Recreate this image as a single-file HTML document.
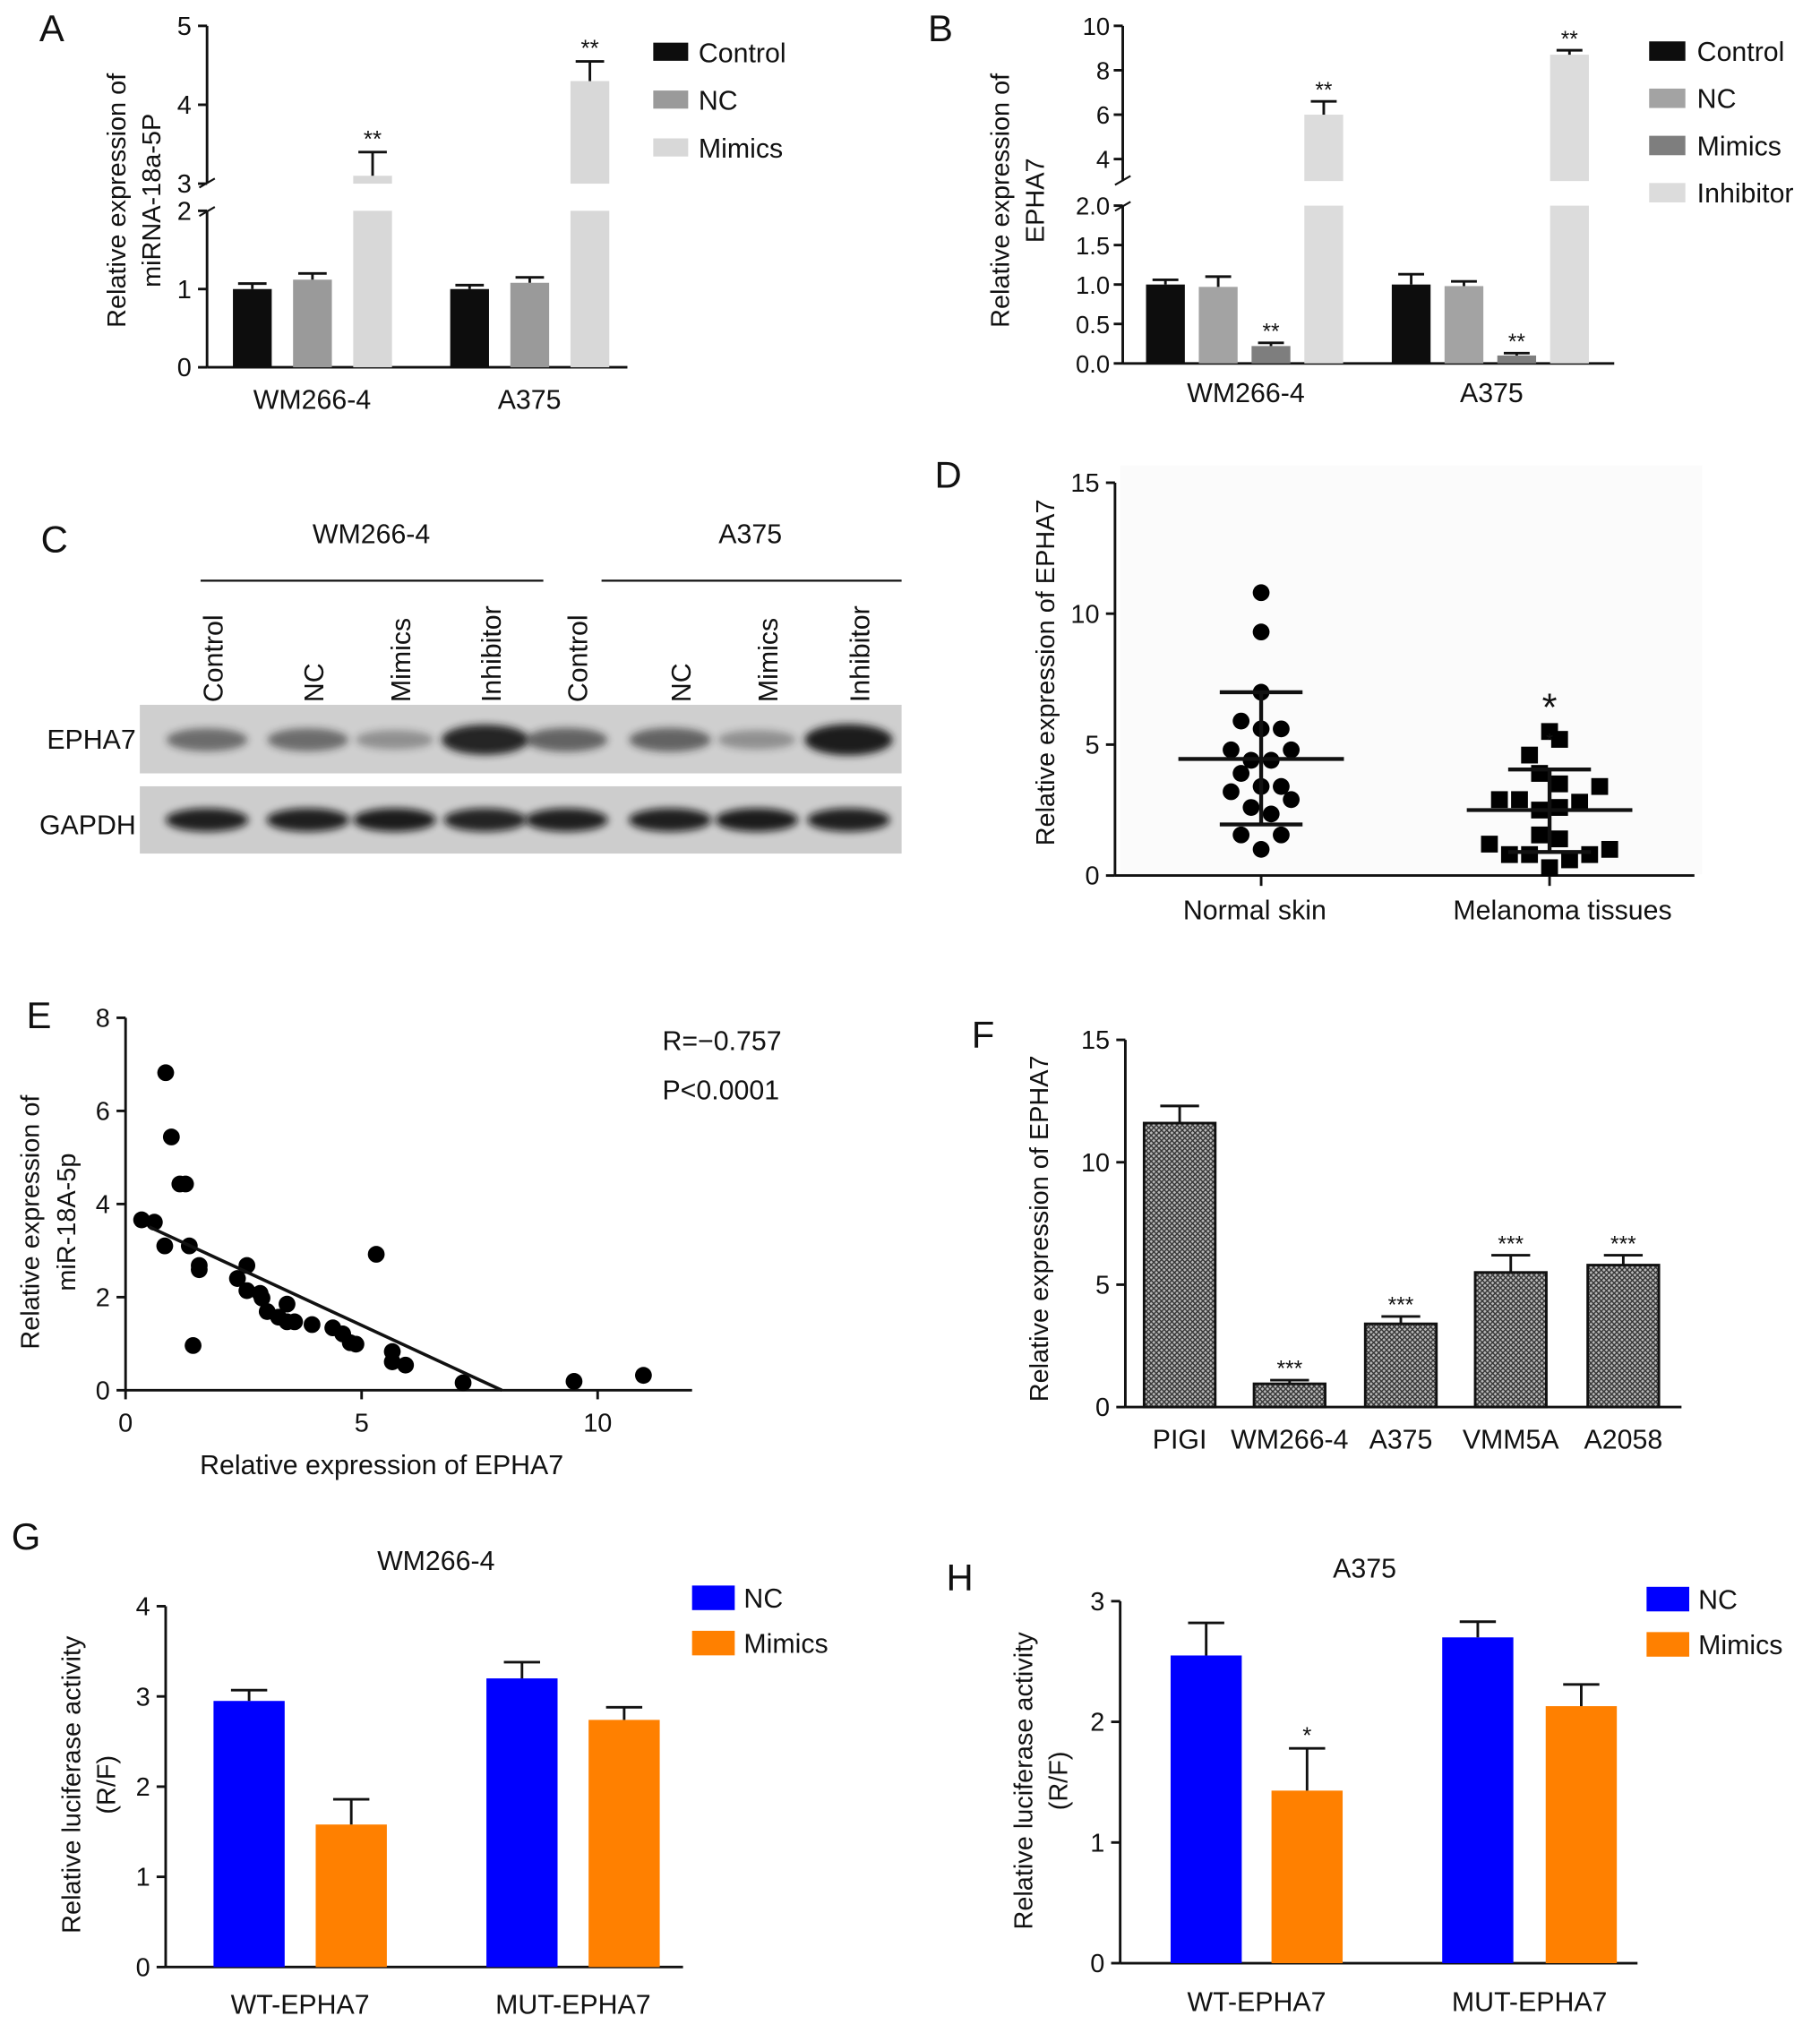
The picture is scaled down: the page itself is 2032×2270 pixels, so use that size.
<!DOCTYPE html>
<html><head><meta charset="utf-8"><style>
html,body{margin:0;padding:0;background:#fff}
svg{display:block;font-family:"Liberation Sans",sans-serif}
</style></head><body>
<svg id="fig" width="2032" height="2270" viewBox="0 0 1407 1572" xmlns="http://www.w3.org/2000/svg">
<defs>
<filter id="blur" x="-30%" y="-80%" width="160%" height="260%"><feGaussianBlur stdDeviation="3"/></filter>
<pattern id="hatch" width="4" height="4" patternUnits="userSpaceOnUse">
<rect width="4" height="4" fill="#bbb"/><path d="M0 0L4 4M4 0L0 4" stroke="#333" stroke-width="1"/></pattern>
</defs>
<g id="root"></g>
</svg>
<script>
// ---------- DATA ----------
const aGroups=["WM266-4","A375"];
const aSeries=["Control","NC","Mimics"];
const aValues=[[1.0,1.12,3.1],[1.0,1.08,4.3]];
const aErrors=[[0.07,0.08,0.3],[0.05,0.07,0.25]];
const aSig=[["","","**"],["","","**"]];
const aTicks=[0,1,2,3,4,5];

const bGroups=["WM266-4","A375"];
const bSeries=["Control","NC","Mimics","Inhibitor"];
const bValues=[[1.0,0.97,0.22,6.0],[1.0,0.98,0.1,8.7]];
const bErrors=[[0.06,0.13,0.04,0.6],[0.13,0.06,0.03,0.2]];
const bSig=[["","","**","**"],["","","**","**"]];
const bTicksLow=[0,0.5,1.0,1.5,2.0];
const bTicksHigh=[4,6,8,10];

const cLanes=["Control","NC","Mimics","Inhibitor","Control","NC","Mimics","Inhibitor"];
const cEpha7=[0.55,0.55,0.35,0.95,0.6,0.6,0.35,1.0];
const cGapdh=[0.9,0.9,0.92,0.88,0.9,0.9,0.92,0.9];

const dGroups=["Normal skin","Melanoma tissues"];
const dNormal=[10.8,9.3,7.0,5.9,5.6,5.6,4.8,4.8,4.4,4.4,3.9,3.4,3.4,3.2,2.9,2.6,2.35,1.55,1.55,1.0];
const dNormalJit=[0,0,0,-1,0,1,-1.5,1.5,-0.5,0.5,-1,0,1,-1.5,1.5,-0.5,0.5,-1,1,0];
const dMel=[5.5,5.2,4.6,3.9,3.5,3.4,2.9,2.9,2.5,2.6,2.8,1.55,1.4,1.2,1.0,0.8,0.8,0.6,0.8,0.3];
const dMelJit=[0,0.5,-1,-0.5,0.5,2.5,-2.5,-1.5,-0.5,0.5,1.5,-0.5,0.5,-3,3,-2,-1,1,2,0];
const dMean=[4.45,2.5];
const dSdHi=[7.0,4.05];
const dSdLo=[1.95,0.9];
const dTicks=[0,5,10,15];

const eX=[0.85,0.97,1.15,1.27,0.34,0.61,0.83,1.35,1.56,1.56,2.57,2.37,2.57,2.85,2.89,3.42,3.0,3.24,3.42,3.58,3.95,4.39,4.6,4.76,4.88,5.31,5.65,5.65,5.93,7.15,9.5,10.97,1.43];
const eY=[6.82,5.44,4.43,4.43,3.66,3.61,3.1,3.1,2.68,2.59,2.68,2.4,2.14,2.08,1.98,1.85,1.69,1.57,1.47,1.47,1.41,1.34,1.21,1.02,0.99,2.92,0.83,0.61,0.54,0.16,0.19,0.32,0.96];
const eFitX=[0.5,7.97];
const eFitY=[3.51,0.0];
const eXTicks=[0,5,10];
const eYTicks=[0,2,4,6,8];

const fCats=["PIGI","WM266-4","A375","VMM5A","A2058"];
const fValues=[11.6,0.95,3.4,5.5,5.8];
const fErrors=[0.7,0.15,0.3,0.7,0.4];
const fSig=["","***","***","***","***"];
const fTicks=[0,5,10,15];

const gGroups=["WT-EPHA7","MUT-EPHA7"];
const gNC=[2.95,3.2];
const gNCErr=[0.12,0.18];
const gMim=[1.58,2.74];
const gMimErr=[0.28,0.14];
const gTicks=[0,1,2,3,4];

const hGroups=["WT-EPHA7","MUT-EPHA7"];
const hNC=[2.55,2.7];
const hNCErr=[0.27,0.13];
const hMim=[1.43,2.13];
const hMimErr=[0.35,0.18];
const hSig=["*",""];
const hTicks=[0,1,2,3];

// ---------- HELPERS ----------
const NS="http://www.w3.org/2000/svg";
const root=document.getElementById('root');
function mk(tag,attrs,name,parent){
  const e=document.createElementNS(NS,tag);
  for(const k in attrs)e.setAttribute(k,attrs[k]);
  
  
  (parent||root).appendChild(e);return e;
}
function txt(x,y,s,size,name,opts){
  opts=opts||{};
  const a={x:x,y:y,'font-size':size,fill:'#111','text-anchor':opts.anchor||'middle'};
  if(opts.rot)a.transform='rotate(-90 '+x+' '+y+')';
  const t=mk('text',a,name,opts.parent);t.textContent=s;return t;
}
function line(x1,y1,x2,y2,name,w,p){return mk('line',{x1:x1,y1:y1,x2:x2,y2:y2,stroke:'#111','stroke-width':w||2},name,p);}
function rect(x,y,w,h,fill,name,p){return mk('rect',{x:x,y:y,width:w,height:h,fill:fill},name,p);}
function errbar(cx,yTop,yErr,cap,name,p){line(cx,yTop,cx,yErr,name,2,p);line(cx-cap/2,yErr,cx+cap/2,yErr,name+'-cap',2,p);}

[["A",40,32],["B",727,32],["C",42,427],["D",733,377],["E",30,795],["F",760,810],["G",20,1198],["H",742,1230]].forEach(l=>{
  txt(l[1],l[2],l[0],29,'panel-label-'+l[0].toLowerCase());
});

// ---------- PANEL A ----------
(function(){
  const g=mk('g',{},'panel-a');
  const X0=160,XE=485;
  const y=v=>v<=2.5?284-v*60.5:142-(v-3)*61;
  line(X0,284,X0,163,'a-y-axis-lower',2,g);
  line(X0,142,X0,20,'a-y-axis-upper',2,g);
  line(X0,284,XE,284,'a-x-axis',2,g);
  line(X0-6,167,X0+6,160,'a-break-mark',1.5,g);line(X0-6,145,X0+6,138,'a-break-mark',1.5,g);
  aTicks.forEach(t=>{line(X0-7,y(t),X0,y(t),'a-y-tick',2,g);txt(X0-12,y(t)+7,String(t),20,'a-y-tick-label',{anchor:'end',parent:g});});
  const cols=['#0d0d0d','#9a9a9a','#d8d8d8'];
  const gx=[180,348], bw=30, step=46.5;
  aGroups.forEach((gr,i)=>{
    aValues[i].forEach((v,j)=>{
      const x=gx[i]+j*step;
      if(v>2.5){
        rect(x,y(2),bw,284-y(2),cols[j],'a-bar-'+aSeries[j].toLowerCase()+'-lower',g);
        rect(x,y(v),bw,142-y(v),cols[j],'a-bar-'+aSeries[j].toLowerCase(),g);
      } else rect(x,y(v),bw,284-y(v),cols[j],'a-bar-'+aSeries[j].toLowerCase(),g);
      errbar(x+bw/2,y(v),y(v+aErrors[i][j]),22,'a-error-bar',g);
      if(aSig[i][j])txt(x+bw/2,y(v+aErrors[i][j])-4,aSig[i][j],18,'a-significance',{parent:g});
    });
    txt(gx[i]+bw+step*0.5+8,316,gr,21,'a-x-label',{parent:g});
  });
  txt(97,155,'Relative expression of',20,'a-y-title',{rot:1,parent:g});
  txt(124,155,'miRNA-18a-5P',20,'a-y-title-2',{rot:1,parent:g});
  aSeries.forEach((s,j)=>{rect(505,33+j*37,27,14,cols[j],'a-legend-swatch',g);txt(540,48+j*37,s,21,'a-legend-entry',{anchor:'start',parent:g});});
})();

// ---------- PANEL B ----------
(function(){
  const g=mk('g',{},'panel-b');
  const X0=868,XE=1248;
  const y=v=>v<=2.5?281-v*61:123-(v-4)*17.17;
  line(X0,281,X0,159,'b-y-axis-lower',2,g);
  line(X0,140,X0,20,'b-y-axis-upper',2,g);
  line(X0,281,XE,281,'b-x-axis',2,g);
  line(X0-6,163,X0+6,156,'b-break-mark',1.5,g);line(X0-6,143,X0+6,136,'b-break-mark',1.5,g);
  bTicksLow.forEach(t=>{line(X0-7,y(t),X0,y(t),'b-y-tick',2,g);txt(X0-10,y(t)+7,t.toFixed(1),19,'b-y-tick-label',{anchor:'end',parent:g});});
  bTicksHigh.forEach(t=>{line(X0-7,y(t),X0,y(t),'b-y-tick',2,g);txt(X0-10,y(t)+7,String(t),19,'b-y-tick-label',{anchor:'end',parent:g});});
  const cols=['#0d0d0d','#a3a3a3','#7e7e7e','#dcdcdc'];
  const gx=[886,1076], bw=30, step=40.8;
  bGroups.forEach((gr,i)=>{
    bValues[i].forEach((v,j)=>{
      const x=gx[i]+j*step;
      if(v>2.5){
        rect(x,y(2),bw,281-y(2),cols[j],'b-bar-lower',g);
        rect(x,y(v),bw,140-y(v),cols[j],'b-bar-'+bSeries[j].toLowerCase(),g);
      } else rect(x,y(v),bw,281-y(v),cols[j],'b-bar-'+bSeries[j].toLowerCase(),g);
      errbar(x+bw/2,y(v),y(v+bErrors[i][j]),20,'b-error-bar',g);
      if(bSig[i][j])txt(x+bw/2,y(v+bErrors[i][j])-3,bSig[i][j],17,'b-significance',{parent:g});
    });
    txt(gx[i]+bw/2+step*1.5+1,311,gr,21,'b-x-label',{parent:g});
  });
  txt(780,155,'Relative expression of',20,'b-y-title',{rot:1,parent:g});
  txt(807,155,'EPHA7',20,'b-y-title-2',{rot:1,parent:g});
  bSeries.forEach((s,j)=>{rect(1275,32+j*36.5,28,15,cols[j],'b-legend-swatch',g);txt(1312,47+j*36.5,s,21,'b-legend-entry',{anchor:'start',parent:g});});
})();

// ---------- PANEL C ----------
(function(){
  const g=mk('g',{},'panel-c-western-blot');
  txt(287,420,'WM266-4',21,'c-group-label',{parent:g});
  txt(580,420,'A375',21,'c-group-label',{parent:g});
  line(155,449,420,449,'c-group-line',1.5,g);line(465,449,697,449,'c-group-line',1.5,g);
  const lx=[165,243,310,380,447,527,594,665];
  cLanes.forEach((l,i)=>txt(lx[i]+7,543,l,21,'c-lane-label',{anchor:'start',rot:1,parent:g}));
  rect(108,545,589,53,'#cfcfcf','c-epha7-membrane',g);
  rect(108,608,589,52,'#cdcdcd','c-gapdh-membrane',g);
  txt(105,579,'EPHA7',21,'c-epha7-label',{anchor:'end',parent:g});
  txt(105,645,'GAPDH',21,'c-gapdh-label',{anchor:'end',parent:g});
  cEpha7.forEach((v,i)=>mk('ellipse',{cx:lx[i]-5+(i>3?-4:0),cy:572,rx:28+v*6,ry:5+v*7,fill:'#1a1a1a',opacity:v,filter:'url(#blur)'},'c-epha7-band',g));
  cGapdh.forEach((v,i)=>mk('ellipse',{cx:lx[i]-5+(i>3?-4:0),cy:634,rx:32,ry:9,fill:'#111',opacity:v,filter:'url(#blur)'},'c-gapdh-band',g));
})();

// ---------- PANEL D ----------
(function(){
  const g=mk('g',{},'panel-d');
  const X0=862,XE=1310,Y0=677,k=20.25,J=15.5;
  const y=v=>Y0-v*k;
  rect(866,360,450,316,'#fbfbfb','d-plot-bg',g);
  line(X0,Y0,X0,y(15),'d-y-axis',2,g);line(X0,Y0,XE,Y0,'d-x-axis',2,g);
  dTicks.forEach(t=>{line(X0-7,y(t),X0,y(t),'d-y-tick',2,g);txt(X0-12,y(t)+7,String(t),20,'d-y-tick-label',{anchor:'end',parent:g});});
  const cx=[975,1198];
  cx.forEach((c,i)=>{line(c,Y0,c,Y0+8,'d-x-tick',2,g);txt(c+(i?10:-5),711,dGroups[i],21,'d-x-label',{parent:g});});
  dNormal.forEach((v,i)=>mk('circle',{cx:cx[0]+dNormalJit[i]*J,cy:y(v),r:6.5,fill:'#000'},'d-normal-point',g));
  dMel.forEach((v,i)=>rect(cx[1]+dMelJit[i]*J-6.5,y(v)-6.5,13,13,'#000','d-melanoma-point',g));
  cx.forEach((c,i)=>{
    line(c-64,y(dMean[i]),c+64,y(dMean[i]),'d-mean-line',3,g);
    line(c,y(dSdLo[i]),c,y(dSdHi[i]),'d-sd-line',3,g);
    line(c-32,y(dSdHi[i]),c+32,y(dSdHi[i]),'d-sd-cap',3,g);
    line(c-32,y(dSdLo[i]),c+32,y(dSdLo[i]),'d-sd-cap',3,g);
  });
  txt(cx[1],y(dSdHi[1])-38,'*',30,'d-significance',{parent:g});
  txt(cx[1],y(dSdHi[1])-18,'*',14,'d-significance-2',{parent:g});
  txt(815,520,'Relative expression of EPHA7',20,'d-y-title',{rot:1,parent:g});
})();

// ---------- PANEL E ----------
(function(){
  const g=mk('g',{},'panel-e');
  const X0=97,Y0=1075,kx=36.5,ky=36;
  const x=v=>X0+v*kx, y=v=>Y0-v*ky;
  line(X0,Y0,X0,y(8),'e-y-axis',2,g);line(X0,Y0,535,Y0,'e-x-axis',2,g);
  eYTicks.forEach(t=>{line(X0-7,y(t),X0,y(t),'e-y-tick',2,g);txt(X0-12,y(t)+7,String(t),20,'e-y-tick-label',{anchor:'end',parent:g});});
  eXTicks.forEach(t=>{line(x(t),Y0,x(t),Y0+7,'e-x-tick',2,g);txt(x(t),1107,String(t),20,'e-x-tick-label',{parent:g});});
  eX.forEach((v,i)=>mk('circle',{cx:x(v),cy:y(eY[i]),r:6.5,fill:'#000'},'e-point',g));
  mk('line',{x1:x(eFitX[0]),y1:y(eFitY[0]),x2:x(eFitX[1]),y2:y(eFitY[1]),stroke:'#111','stroke-width':2.5},'e-fit-line',g);
  txt(512,812,'R=\u22120.757',21,'e-r-value',{anchor:'start',parent:g});
  txt(512,850,'P<0.0001',21,'e-p-value',{anchor:'start',parent:g});
  txt(30,945,'Relative expression of',20,'e-y-title',{rot:1,parent:g});
  txt(58,945,'miR-18A-5p',20,'e-y-title-2',{rot:1,parent:g});
  txt(295,1140,'Relative expression of EPHA7',21,'e-x-title',{parent:g});
})();

// ---------- PANEL F ----------
(function(){
  const g=mk('g',{},'panel-f');
  const X0=870,Y0=1088,k=18.93;
  const y=v=>Y0-v*k;
  line(X0,Y0,X0,y(15),'f-y-axis',2,g);line(X0,Y0,1300,Y0,'f-x-axis',2,g);
  fTicks.forEach(t=>{line(X0-7,y(t),X0,y(t),'f-y-tick',2,g);txt(X0-12,y(t)+7,String(t),20,'f-y-tick-label',{anchor:'end',parent:g});});
  const cx=[912,997,1083,1168,1255], bw=55;
  fCats.forEach((c,i)=>{
    const b=rect(cx[i]-bw/2,y(fValues[i]),bw,Y0-y(fValues[i]),'url(#hatch)','f-bar-'+c.toLowerCase(),g);
    b.setAttribute('stroke','#111');b.setAttribute('stroke-width','2');
    errbar(cx[i],y(fValues[i]),y(fValues[i]+fErrors[i]),30,'f-error-bar',g);
    if(fSig[i])txt(cx[i],y(fValues[i]+fErrors[i])-3,fSig[i],17,'f-significance',{parent:g});
    txt(cx[i],1120,c,21,'f-x-label',{parent:g});
  });
  txt(810,950,'Relative expression of EPHA7',20,'f-y-title',{rot:1,parent:g});
})();

// ---------- PANELS G & H ----------
function luc(p,X0,Y0,k,ticks,groups,nc,ncE,mim,mimE,sig,bx,title,tx,ty,ly,labY,yt){
  const g=mk('g',{},'panel-'+p);
  const y=v=>Y0-v*k;
  line(X0,Y0,X0,y(ticks[ticks.length-1]),p+'-y-axis',2,g);line(X0,Y0,X0+400,Y0,p+'-x-axis',2,g);
  ticks.forEach(t=>{line(X0-7,y(t),X0,y(t),p+'-y-tick',2,g);txt(X0-12,y(t)+7,String(t),20,p+'-y-tick-label',{anchor:'end',parent:g});});
  const bw=55;
  groups.forEach((gr,i)=>{
    const x1=bx[i][0],x2=bx[i][1];
    rect(x1,y(nc[i]),bw,Y0-y(nc[i]),'#0000ff',p+'-bar-nc',g);
    errbar(x1+bw/2,y(nc[i]),y(nc[i]+ncE[i]),28,p+'-error-bar',g);
    rect(x2,y(mim[i]),bw,Y0-y(mim[i]),'#ff8000',p+'-bar-mimics',g);
    errbar(x2+bw/2,y(mim[i]),y(mim[i]+mimE[i]),28,p+'-error-bar',g);
    if(sig&&sig[i])txt(x2+bw/2,y(mim[i]+mimE[i])-4,sig[i],18,p+'-significance',{parent:g});
    txt((x1+x2+bw)/2,labY,gr,21,p+'-x-label',{parent:g});
  });
  txt(tx,ty,title,21,p+'-title',{parent:g});
  rect(X0+407,ly,33,19,'#0000ff',p+'-legend-swatch-nc',g);
  txt(X0+447,ly+17,'NC',21,p+'-legend-nc',{anchor:'start',parent:g});
  rect(X0+407,ly+35,33,19,'#ff8000',p+'-legend-swatch-mimics',g);
  txt(X0+447,ly+52,'Mimics',21,p+'-legend-mimics',{anchor:'start',parent:g});
  txt(yt,1380+(p==='h'?-3:0),'Relative luciferase activity',20,p+'-y-title',{rot:1,parent:g});
  txt(yt+27,1380+(p==='h'?-3:0),'(R/F)',20,p+'-y-title-2',{rot:1,parent:g});
}
luc('g',128,1521,69.75,gTicks,gGroups,gNC,gNCErr,gMim,gMimErr,null,[[165,244],[376,455]],'WM266-4',337,1214,1226,1557,62);
luc('h',866,1518,93.3,hTicks,hGroups,hNC,hNCErr,hMim,hMimErr,hSig,[[905,983],[1115,1195]],'A375',1055,1220,1227,1555,798);
</script>
</body></html>
